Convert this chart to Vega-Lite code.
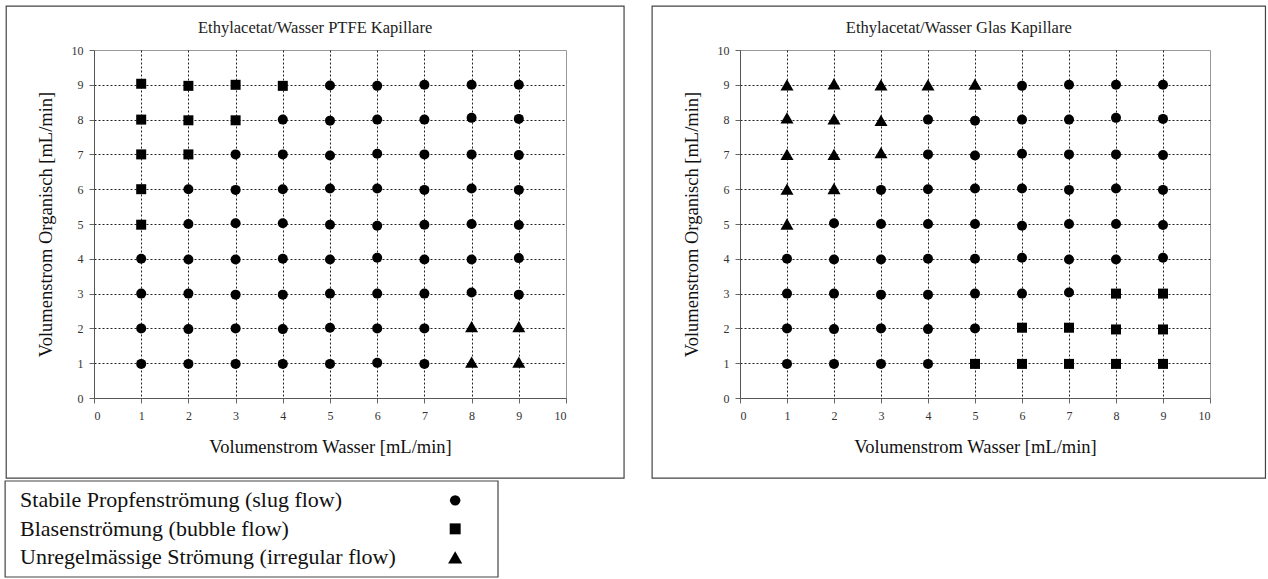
{
  "$schema": "https://vega.github.io/schema/vega-lite/v6.json",
  "background": "white",
  "padding": {"left": 4, "top": 5, "right": 0, "bottom": 0},
  "config": {
    "font": "Liberation Serif",
    "view": {"stroke": "#999"},
    "axis": {
      "labelFont": "Liberation Serif", "labelFontSize": 12, "labelColor": "#333",
      "titleFont": "Liberation Serif", "titleFontSize": 18.5, "titleFontWeight": "normal", "titleColor": "#111",
      "domainColor": "#555", "tickColor": "#666", "tickSize": 5,
      "gridColor": "#222", "gridDash": [2, 2], "gridWidth": 1
    },
    "title": {"font": "Liberation Serif", "fontSize": 16.5, "fontWeight": "normal", "color": "#222", "frame": "bounds"}
  },
  "datasets": {
    "ptfe": [
      {"x":1,"y":9.03,"f":"bubble"},{"x":2,"y":8.97,"f":"bubble"},{"x":3,"y":9.0,"f":"bubble"},{"x":4,"y":8.97,"f":"bubble"},{"x":5,"y":8.98,"f":"slug"},{"x":6,"y":8.97,"f":"slug"},{"x":7,"y":9.0,"f":"slug"},{"x":8,"y":9.0,"f":"slug"},{"x":9,"y":9.0,"f":"slug"},
      {"x":1,"y":8.0,"f":"bubble"},{"x":2,"y":7.98,"f":"bubble"},{"x":3,"y":7.98,"f":"bubble"},{"x":4,"y":8.0,"f":"slug"},{"x":5,"y":7.97,"f":"slug"},{"x":6,"y":8.0,"f":"slug"},{"x":7,"y":8.0,"f":"slug"},{"x":8,"y":8.05,"f":"slug"},{"x":9,"y":8.02,"f":"slug"},
      {"x":1,"y":7.0,"f":"bubble"},{"x":2,"y":7.0,"f":"bubble"},{"x":3,"y":7.0,"f":"slug"},{"x":4,"y":7.0,"f":"slug"},{"x":5,"y":6.97,"f":"slug"},{"x":6,"y":7.02,"f":"slug"},{"x":7,"y":7.0,"f":"slug"},{"x":8,"y":7.0,"f":"slug"},{"x":9,"y":6.98,"f":"slug"},
      {"x":1,"y":6.0,"f":"bubble"},{"x":2,"y":6.0,"f":"slug"},{"x":3,"y":5.98,"f":"slug"},{"x":4,"y":6.0,"f":"slug"},{"x":5,"y":6.02,"f":"slug"},{"x":6,"y":6.02,"f":"slug"},{"x":7,"y":5.98,"f":"slug"},{"x":8,"y":6.02,"f":"slug"},{"x":9,"y":5.98,"f":"slug"},
      {"x":1,"y":4.98,"f":"bubble"},{"x":2,"y":5.0,"f":"slug"},{"x":3,"y":5.02,"f":"slug"},{"x":4,"y":5.02,"f":"slug"},{"x":5,"y":4.98,"f":"slug"},{"x":6,"y":4.95,"f":"slug"},{"x":7,"y":4.98,"f":"slug"},{"x":8,"y":5.0,"f":"slug"},{"x":9,"y":4.97,"f":"slug"},
      {"x":1,"y":4.0,"f":"slug"},{"x":2,"y":3.98,"f":"slug"},{"x":3,"y":3.98,"f":"slug"},{"x":4,"y":4.0,"f":"slug"},{"x":5,"y":3.98,"f":"slug"},{"x":6,"y":4.03,"f":"slug"},{"x":7,"y":3.98,"f":"slug"},{"x":8,"y":3.98,"f":"slug"},{"x":9,"y":4.02,"f":"slug"},
      {"x":1,"y":3.0,"f":"slug"},{"x":2,"y":3.0,"f":"slug"},{"x":3,"y":2.97,"f":"slug"},{"x":4,"y":2.97,"f":"slug"},{"x":5,"y":3.0,"f":"slug"},{"x":6,"y":3.0,"f":"slug"},{"x":7,"y":3.0,"f":"slug"},{"x":8,"y":3.03,"f":"slug"},{"x":9,"y":2.97,"f":"slug"},
      {"x":1,"y":2.0,"f":"slug"},{"x":2,"y":1.98,"f":"slug"},{"x":3,"y":2.0,"f":"slug"},{"x":4,"y":1.98,"f":"slug"},{"x":5,"y":2.02,"f":"slug"},{"x":6,"y":2.0,"f":"slug"},{"x":7,"y":2.0,"f":"slug"},{"x":8,"y":2.05,"f":"irregular"},{"x":9,"y":2.05,"f":"irregular"},
      {"x":1,"y":0.98,"f":"slug"},{"x":2,"y":0.98,"f":"slug"},{"x":3,"y":0.98,"f":"slug"},{"x":4,"y":0.98,"f":"slug"},{"x":5,"y":0.98,"f":"slug"},{"x":6,"y":1.01,"f":"slug"},{"x":7,"y":0.98,"f":"slug"},{"x":8,"y":1.03,"f":"irregular"},{"x":9,"y":1.03,"f":"irregular"}
    ],
    "glas": [
      {"x":1,"y":9.0,"f":"irregular"},{"x":2,"y":9.03,"f":"irregular"},{"x":3,"y":9.0,"f":"irregular"},{"x":4,"y":9.0,"f":"irregular"},{"x":5,"y":9.02,"f":"irregular"},{"x":6,"y":8.97,"f":"slug"},{"x":7,"y":9.0,"f":"slug"},{"x":8,"y":9.0,"f":"slug"},{"x":9,"y":9.0,"f":"slug"},
      {"x":1,"y":8.05,"f":"irregular"},{"x":2,"y":8.02,"f":"irregular"},{"x":3,"y":7.98,"f":"irregular"},{"x":4,"y":8.0,"f":"slug"},{"x":5,"y":7.97,"f":"slug"},{"x":6,"y":8.0,"f":"slug"},{"x":7,"y":8.0,"f":"slug"},{"x":8,"y":8.05,"f":"slug"},{"x":9,"y":8.02,"f":"slug"},
      {"x":1,"y":7.0,"f":"irregular"},{"x":2,"y":7.0,"f":"irregular"},{"x":3,"y":7.05,"f":"irregular"},{"x":4,"y":7.0,"f":"slug"},{"x":5,"y":6.97,"f":"slug"},{"x":6,"y":7.02,"f":"slug"},{"x":7,"y":7.0,"f":"slug"},{"x":8,"y":7.0,"f":"slug"},{"x":9,"y":6.98,"f":"slug"},
      {"x":1,"y":6.0,"f":"irregular"},{"x":2,"y":6.02,"f":"irregular"},{"x":3,"y":5.98,"f":"slug"},{"x":4,"y":6.0,"f":"slug"},{"x":5,"y":6.02,"f":"slug"},{"x":6,"y":6.02,"f":"slug"},{"x":7,"y":5.98,"f":"slug"},{"x":8,"y":6.02,"f":"slug"},{"x":9,"y":5.98,"f":"slug"},
      {"x":1,"y":5.0,"f":"irregular"},{"x":2,"y":5.02,"f":"slug"},{"x":3,"y":5.0,"f":"slug"},{"x":4,"y":5.0,"f":"slug"},{"x":5,"y":5.0,"f":"slug"},{"x":6,"y":4.95,"f":"slug"},{"x":7,"y":5.0,"f":"slug"},{"x":8,"y":5.0,"f":"slug"},{"x":9,"y":4.97,"f":"slug"},
      {"x":1,"y":4.0,"f":"slug"},{"x":2,"y":3.98,"f":"slug"},{"x":3,"y":3.98,"f":"slug"},{"x":4,"y":4.0,"f":"slug"},{"x":5,"y":4.0,"f":"slug"},{"x":6,"y":4.03,"f":"slug"},{"x":7,"y":3.98,"f":"slug"},{"x":8,"y":3.98,"f":"slug"},{"x":9,"y":4.03,"f":"slug"},
      {"x":1,"y":3.0,"f":"slug"},{"x":2,"y":3.0,"f":"slug"},{"x":3,"y":2.97,"f":"slug"},{"x":4,"y":2.97,"f":"slug"},{"x":5,"y":3.0,"f":"slug"},{"x":6,"y":3.0,"f":"slug"},{"x":7,"y":3.03,"f":"slug"},{"x":8,"y":3.0,"f":"bubble"},{"x":9,"y":3.0,"f":"bubble"},
      {"x":1,"y":2.0,"f":"slug"},{"x":2,"y":1.98,"f":"slug"},{"x":3,"y":2.0,"f":"slug"},{"x":4,"y":1.98,"f":"slug"},{"x":5,"y":2.0,"f":"slug"},{"x":6,"y":2.02,"f":"bubble"},{"x":7,"y":2.02,"f":"bubble"},{"x":8,"y":1.97,"f":"bubble"},{"x":9,"y":1.97,"f":"bubble"},
      {"x":1,"y":0.98,"f":"slug"},{"x":2,"y":0.98,"f":"slug"},{"x":3,"y":0.98,"f":"slug"},{"x":4,"y":0.98,"f":"slug"},{"x":5,"y":0.98,"f":"bubble"},{"x":6,"y":0.98,"f":"bubble"},{"x":7,"y":0.98,"f":"bubble"},{"x":8,"y":0.98,"f":"bubble"},{"x":9,"y":0.98,"f":"bubble"}
    ],
    "legend": [
      {"label": "Stabile Propfenströmung (slug flow)", "f": "slug", "row": 1},
      {"label": "Blasenströmung (bubble flow)", "f": "bubble", "row": 2},
      {"label": "Unregelmässige Strömung (irregular flow)", "f": "irregular", "row": 3}
    ]
  },
  "resolve": {"scale": {"size": "independent"}},
  "spacing": 0,
  "vconcat": [
    {
      "spacing": 25,
      "hconcat": [
        {
          "width": 472, "height": 348,
          "title": {"text": "Ethylacetat/Wasser PTFE Kapillare", "offset": -31},
          "layer": [
            {
              "data": {"name": "ptfe"},
              "mark": {"type": "point", "filled": true, "color": "black", "opacity": 1},
              "encoding": {
                "x": {"field": "x", "type": "quantitative", "scale": {"domain": [0, 10], "nice": false},
                  "axis": {"values": [0,1,2,3,4,5,6,7,8,9,10], "title": "Volumenstrom Wasser [mL/min]", "labelFont": "Liberation Serif", "titleFont": "Liberation Serif", "labelPadding": 7, "titlePadding": 16,
                    "gridOpacity": {"condition": {"test": "datum.value == 0 || datum.value == 10", "value": 0}, "value": 1}}},
                "y": {"field": "y", "type": "quantitative", "scale": {"domain": [0, 10], "nice": false},
                  "axis": {"values": [0,1,2,3,4,5,6,7,8,9,10], "title": "Volumenstrom Organisch [mL/min]", "labelFont": "Liberation Serif", "titleFont": "Liberation Serif", "labelPadding": 6, "titlePadding": 16,
                    "gridOpacity": {"condition": {"test": "datum.value == 0 || datum.value == 10", "value": 0}, "value": 1}}},
                "shape": {"field": "f", "type": "nominal", "scale": {"domain": ["slug", "bubble", "irregular"], "range": ["circle", "square", "triangle-up"]}, "legend": null},
                "size": {"field": "f", "type": "nominal", "scale": {"type": "ordinal", "domain": ["slug", "bubble", "irregular"], "range": [100, 100, 170]}, "legend": null}
              }
            },
            {
              "data": {"values": [{}]},
              "mark": {"type": "rect", "filled": false, "stroke": "#444", "strokeWidth": 1.2, "clip": false},
              "encoding": {
                "x": {"datum": -1.86, "type": "quantitative",
                  "axis": {"values": [0,1,2,3,4,5,6,7,8,9,10], "title": "Volumenstrom Wasser [mL/min]", "labelFont": "Liberation Serif", "titleFont": "Liberation Serif", "labelPadding": 7, "titlePadding": 16,
                    "gridOpacity": {"condition": {"test": "datum.value == 0 || datum.value == 10", "value": 0}, "value": 1}}},
                "x2": {"datum": 11.23},
                "y": {"datum": 11.26, "type": "quantitative",
                  "axis": {"values": [0,1,2,3,4,5,6,7,8,9,10], "title": "Volumenstrom Organisch [mL/min]", "labelFont": "Liberation Serif", "titleFont": "Liberation Serif", "labelPadding": 6, "titlePadding": 16,
                    "gridOpacity": {"condition": {"test": "datum.value == 0 || datum.value == 10", "value": 0}, "value": 1}}},
                "y2": {"datum": -2.3}
              }
            }
          ]
        },
        {
          "width": 470, "height": 348,
          "title": {"text": "Ethylacetat/Wasser Glas Kapillare", "offset": -31},
          "layer": [
            {
              "data": {"name": "glas"},
              "mark": {"type": "point", "filled": true, "color": "black", "opacity": 1},
              "encoding": {
                "x": {"field": "x", "type": "quantitative", "scale": {"domain": [0, 10], "nice": false},
                  "axis": {"values": [0,1,2,3,4,5,6,7,8,9,10], "title": "Volumenstrom Wasser [mL/min]", "labelFont": "Liberation Serif", "titleFont": "Liberation Serif", "labelPadding": 7, "titlePadding": 16,
                    "gridOpacity": {"condition": {"test": "datum.value == 0 || datum.value == 10", "value": 0}, "value": 1}}},
                "y": {"field": "y", "type": "quantitative", "scale": {"domain": [0, 10], "nice": false},
                  "axis": {"values": [0,1,2,3,4,5,6,7,8,9,10], "title": "Volumenstrom Organisch [mL/min]", "labelFont": "Liberation Serif", "titleFont": "Liberation Serif", "labelPadding": 6, "titlePadding": 16,
                    "gridOpacity": {"condition": {"test": "datum.value == 0 || datum.value == 10", "value": 0}, "value": 1}}},
                "shape": {"field": "f", "type": "nominal", "scale": {"domain": ["slug", "bubble", "irregular"], "range": ["circle", "square", "triangle-up"]}, "legend": null},
                "size": {"field": "f", "type": "nominal", "scale": {"type": "ordinal", "domain": ["slug", "bubble", "irregular"], "range": [100, 100, 170]}, "legend": null}
              }
            },
            {
              "data": {"values": [{}]},
              "mark": {"type": "rect", "filled": false, "stroke": "#444", "strokeWidth": 1.2, "clip": false},
              "encoding": {
                "x": {"datum": -1.87, "type": "quantitative",
                  "axis": {"values": [0,1,2,3,4,5,6,7,8,9,10], "title": "Volumenstrom Wasser [mL/min]", "labelFont": "Liberation Serif", "titleFont": "Liberation Serif", "labelPadding": 7, "titlePadding": 16,
                    "gridOpacity": {"condition": {"test": "datum.value == 0 || datum.value == 10", "value": 0}, "value": 1}}},
                "x2": {"datum": 11.18},
                "y": {"datum": 11.26, "type": "quantitative",
                  "axis": {"values": [0,1,2,3,4,5,6,7,8,9,10], "title": "Volumenstrom Organisch [mL/min]", "labelFont": "Liberation Serif", "titleFont": "Liberation Serif", "labelPadding": 6, "titlePadding": 16,
                    "gridOpacity": {"condition": {"test": "datum.value == 0 || datum.value == 10", "value": 0}, "value": 1}}},
                "y2": {"datum": -2.3}
              }
            }
          ]
        }
      ]
    },
    {
      "width": 404, "height": 96,
      "view": {"stroke": null},
      "layer": [
        {
          "data": {"name": "legend"},
          "mark": {"type": "text", "align": "left", "baseline": "middle", "fontSize": 22, "font": "Liberation Serif", "color": "#111"},
          "encoding": {
            "x": {"datum": -0.183, "type": "quantitative", "scale": {"domain": [0, 1], "zero": false, "nice": false}, "axis": null},
            "y": {"field": "row", "type": "quantitative", "scale": {"domain": [0.32, 3.69], "reverse": true, "zero": false, "nice": false}, "axis": null},
            "text": {"field": "label"}
          }
        },
        {
          "data": {"name": "legend"},
          "mark": {"type": "point", "filled": true, "color": "black", "opacity": 1},
          "encoding": {
            "x": {"datum": 0.894, "type": "quantitative", "axis": null},
            "y": {"field": "row", "type": "quantitative", "axis": null},
            "shape": {"field": "f", "type": "nominal", "scale": {"domain": ["slug", "bubble", "irregular"], "range": ["circle", "square", "triangle-up"]}, "legend": null},
            "size": {"field": "f", "type": "nominal", "scale": {"type": "ordinal", "domain": ["slug", "bubble", "irregular"], "range": [110, 120, 200]}, "legend": null}
          }
        },
        {
          "data": {"values": [{}]},
          "mark": {"type": "rect", "filled": false, "stroke": "#444", "strokeWidth": 1.2, "clip": false},
          "encoding": {
            "x": {"datum": -0.22, "type": "quantitative", "axis": null},
            "x2": {"datum": 1},
            "y": {"datum": 0.32, "type": "quantitative", "axis": null},
            "y2": {"datum": 3.69}
          }
        }
      ]
    }
  ]
}
